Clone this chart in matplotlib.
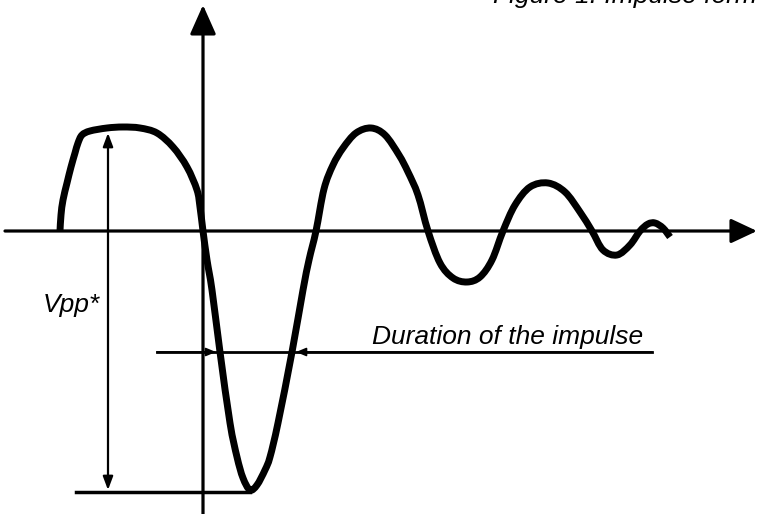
import numpy as np
import matplotlib
matplotlib.use('Agg')
import matplotlib.pyplot as plt
from matplotlib.path import Path
from matplotlib.patches import PathPatch

# Impulse waveform (time, amplitude; arbitrary units)
t = np.array([-143, -142, -140, -136, -132, -128, -125, -121, -113, -96, -80, -63, -46, -30,
              -16, -6, -3, 0, 4, 9, 17, 27, 34, 40, 47, 54, 62, 67, 75, 89, 100, 106, 113,
              121, 130, 140, 153, 168, 182, 196, 205, 215, 225, 237, 250, 264, 277, 289,
              300, 312, 327, 345, 362, 377, 389, 400, 414, 427, 437, 445, 452, 460, 467])
v = np.array([0, 16, 31, 48, 64, 78, 88, 96, 100, 103, 104, 103, 98, 84,
              64, 41, 24, 0, -29, -59, -121, -192, -226, -247, -259, -254, -239, -226, -192, -121, -59, -29, 0,
              42, 66, 83, 98, 103, 96, 76, 59, 36, 0, -32, -47, -51, -46, -29,
              0, 26, 44, 48, 39, 19, 0, -19, -24, -14, 0, 7, 8, 3, -6])

duration_level = -121          # level where the impulse duration is measured
duration_start, duration_end = 17, 89   # curve crossings at that level

title = 'Figure 1: Impulse form'
duration_label = 'Duration of the impulse'
vpp_label = 'Vpp*'

plt.rcParams['font.family'] = ['Liberation Sans', 'DejaVu Sans']

fig = plt.figure(figsize=(7.57, 5.14), dpi=100)
ax = fig.add_axes([0, 0, 1, 1])
ax.set_xlim(-203, 554)
ax.set_ylim(-283, 231)
ax.axis('off')

def arrow(ax, start, tip, style, lw, hl, hw):
	ax.annotate('', xy=tip, xytext=start,
		arrowprops=dict(arrowstyle='%s,head_length=%g,head_width=%g' % (style, hl, hw),
						mutation_scale=1, lw=lw, color='black', shrinkA=0, shrinkB=0))

def smooth_path(x, y):
	# cubic Bezier segments through the points (Catmull-Rom tangents)
	p = np.column_stack([x, y]).astype(float)
	verts = [p[0]]
	codes = [Path.MOVETO]
	for i in range(len(p) - 1):
		p0 = p[max(i - 1, 0)]
		p3 = p[min(i + 2, len(p) - 1)]
		c1 = p[i] + (p[i + 1] - p0) / 6.0
		c2 = p[i + 1] - (p3 - p[i]) / 6.0
		verts += [c1, c2, p[i + 1]]
		codes += [Path.CURVE4] * 3
	return Path(verts, codes)

# coordinate axes
arrow(ax, (-198, 0), (554, 0), '-|>', 2.3, 16, 7.5)
arrow(ax, (0, -283), (0, 226), '-|>', 2.3, 18, 8)

# waveform
ax.add_patch(PathPatch(smooth_path(t, v), facecolor='none', edgecolor='black', lw=5,
					   joinstyle='round', capstyle='butt'))

# peak-to-peak marker
v_top, v_bot = v.max(), v.min()
ax.plot([-127, t[np.argmin(v)]], [v_bot - 2, v_bot - 2], color='black', lw=2.5)
arrow(ax, (-95, 0), (-95, v_top - 6), '-|>', 1.6, 8, 3)
arrow(ax, (-95, 0), (-95, v_bot), '-|>', 1.6, 8, 3)

# duration marker
ax.plot([-46, 449], [duration_level, duration_level], color='black', lw=2)
arrow(ax, (-46, duration_level), (duration_start - 4, duration_level), '-|>', 1.2, 6, 2.5)
arrow(ax, (449, duration_level), (duration_end + 4, duration_level), '-|>', 1.2, 6, 2.5)

ax.text(169, -113, duration_label, fontsize=19, style='italic', ha='left', va='baseline')
ax.text(-160, -81, vpp_label, fontsize=19, style='italic', ha='left', va='baseline')
ax.text(290, 228, title, fontsize=19, style='italic', ha='left', va='baseline')

fig.savefig('out.png', dpi=100)
